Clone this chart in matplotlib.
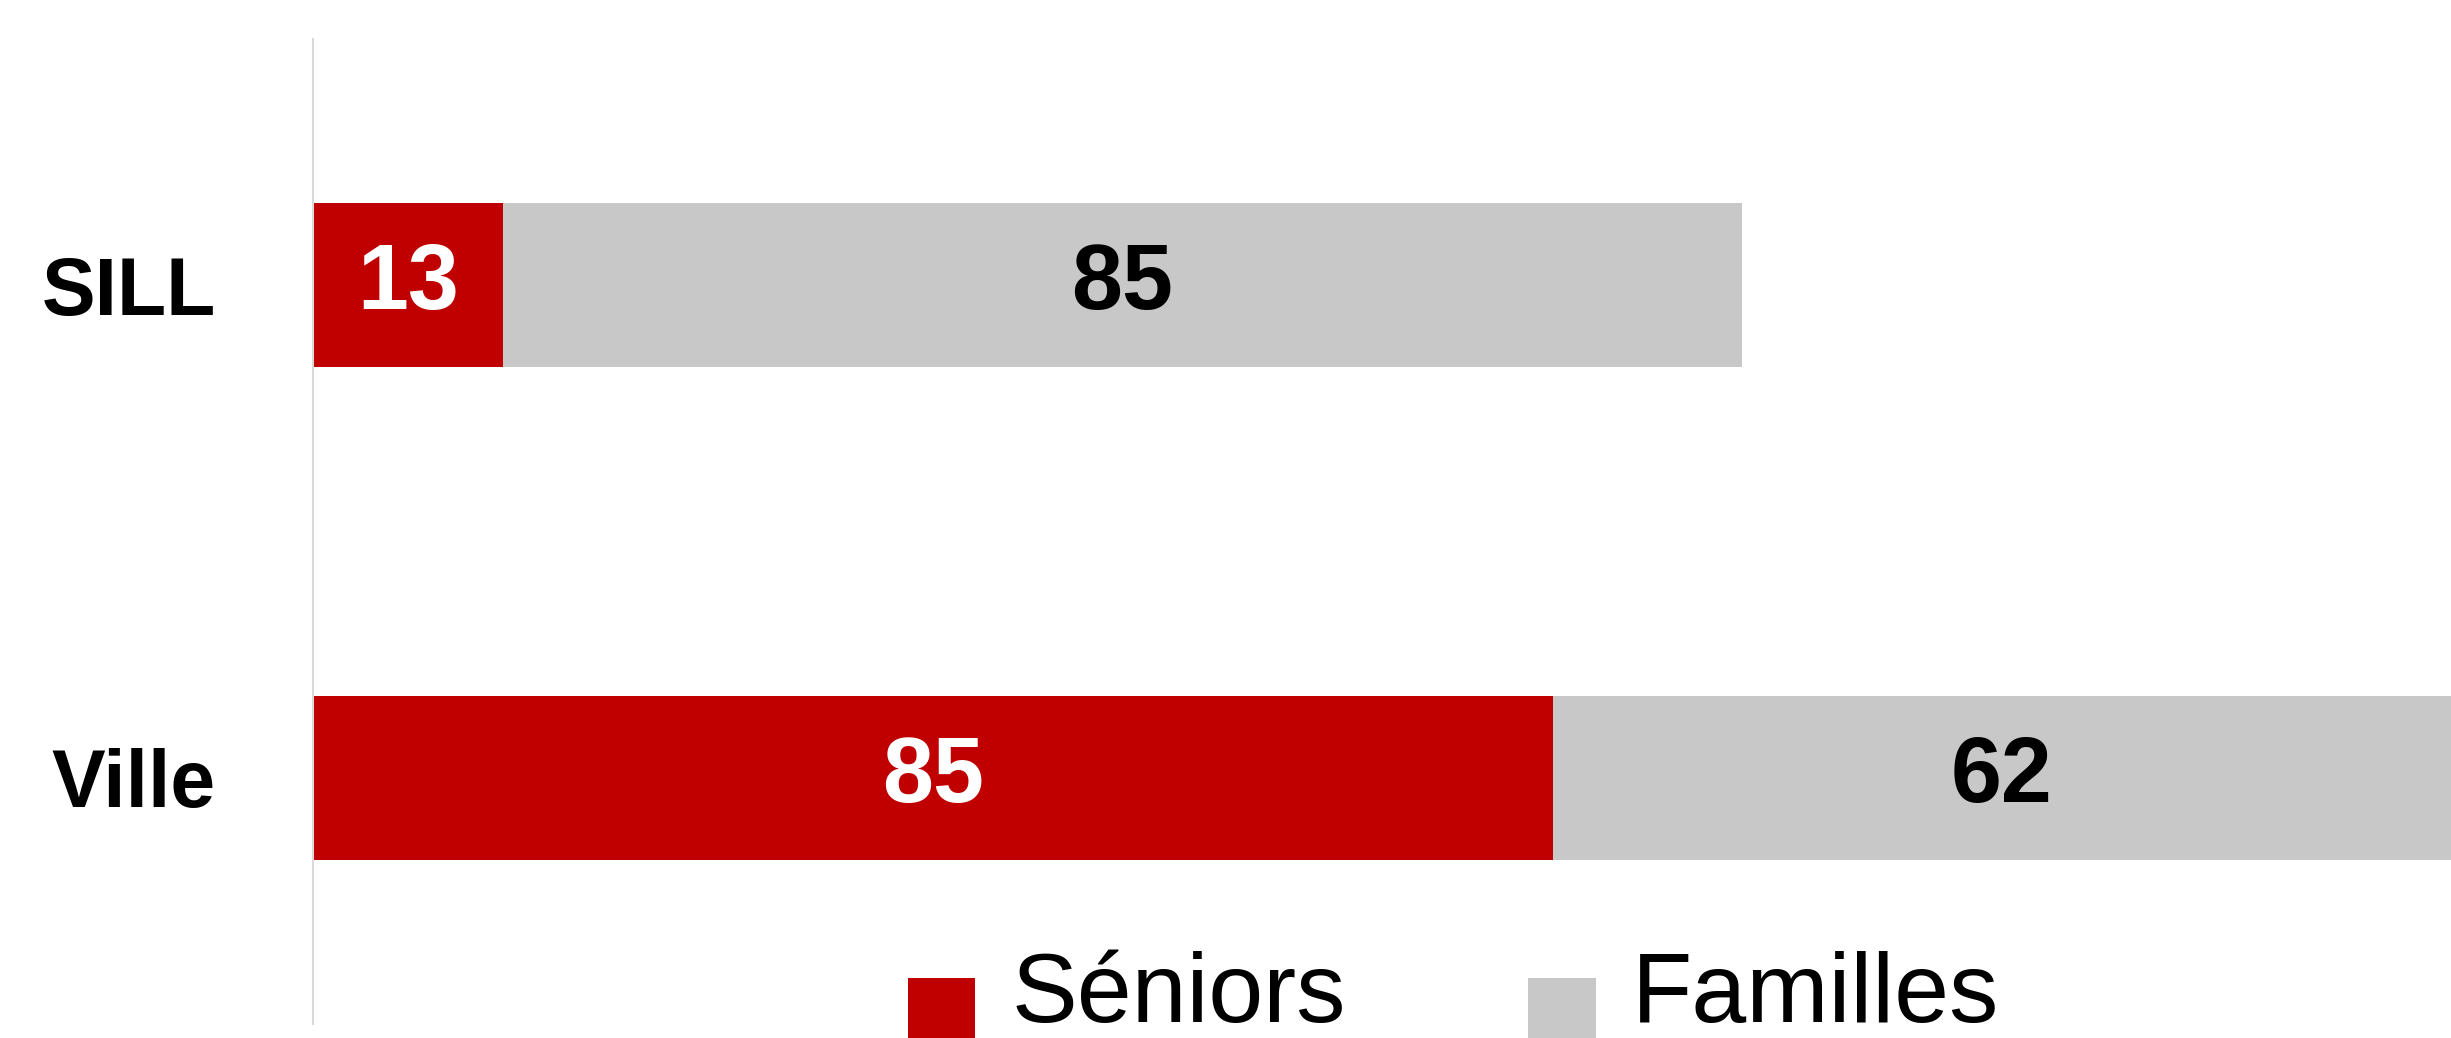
import matplotlib
matplotlib.use("Agg")
from matplotlib import pyplot as plt
from matplotlib.patches import Patch, Rectangle
from matplotlib.legend_handler import HandlerPatch

categories = ['Ville', 'SILL']
seniors = [85, 13]
familles = [62, 85]
series_names = ['Séniors', 'Familles']
colors = ['#c00000', '#c8c8c8']
label_colors = ['white', 'black']

plt.rcParams['font.family'] = ['Liberation Sans', 'DejaVu Sans']

W, H = 2451, 1038
fig = plt.figure(figsize=(W / 100, H / 100), dpi=100)
ax = fig.add_axes([313 / W, 1 - 1024 / H, 1 - 313 / W, (1024 - 39) / H])

pos = list(range(len(categories)))
left = [0] * len(categories)
for vals, color, tcol in zip([seniors, familles], colors, label_colors):
    bars = ax.barh(pos, vals, left=left, height=0.333, color=color)
    ax.bar_label(bars, labels=[str(v) for v in vals], label_type='center',
                 color=tcol, fontsize=66, fontweight='bold')
    left = [a + b for a, b in zip(left, vals)]

ax.set_xlim(0, 146.6)
ax.set_ylim(-0.5, 1.5)
ax.set_yticks(pos)
ax.set_yticklabels(categories, fontsize=58, fontweight='bold')
ax.tick_params(axis='y', length=0, pad=70)
ax.set_xticks([])
for side in ['top', 'right', 'bottom']:
    ax.spines[side].set_visible(False)
ax.spines['left'].set_color('#d9d9d9')
ax.spines['left'].set_linewidth(1.5)


# square legend keys that sit lower than the text, as in the original
def square_key(legend, orig_handle, xdescent, ydescent, width, height, fontsize):
    return Rectangle((-xdescent, -16.5), width, width)


handles = [Patch(facecolor=c, edgecolor='none') for c in colors]
fig.legend(handles, series_names, loc='upper left', bbox_to_anchor=(908 / W, 1 - 951 / H),
           ncol=2, frameon=False, fontsize=71, handlelength=0.68, handleheight=0.68,
           handletextpad=0.37, columnspacing=1.85, borderpad=0, borderaxespad=0,
           handler_map={Patch: HandlerPatch(patch_func=square_key)})

plt.savefig("out.png", dpi=100)
